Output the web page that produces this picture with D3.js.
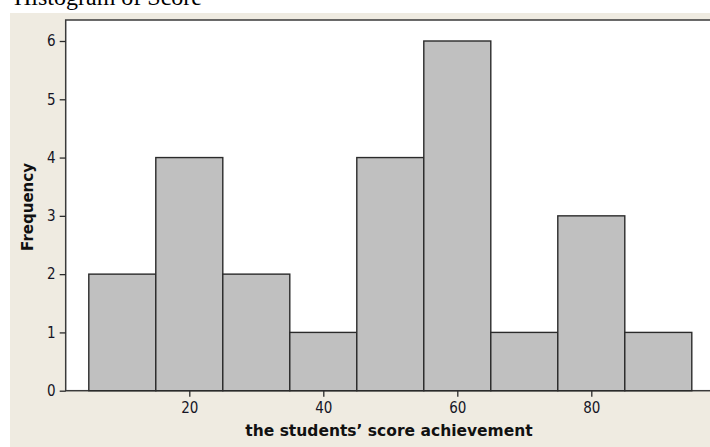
<!DOCTYPE html>
<html>
<head>
<meta charset="utf-8">
<script src="https://cdn.jsdelivr.net/npm/d3@7"></script>
<style>
  body { margin: 0; background: #ffffff; }
  svg { display: block; }
  .tick text { font-size: 15px; font-family: 'DejaVu Sans Condensed', 'DejaVu Sans', sans-serif; }
</style>
</head>
<body>
<svg id="chart" width="710" height="447"></svg>
<script>
// histogram bins (lower edge, upper edge) and counts
var binStarts = [5, 15, 25, 35, 45, 55, 65, 75, 85];
var binEnds = [15, 25, 35, 45, 55, 65, 75, 85, 95];
var counts = [2, 4, 2, 1, 4, 6, 1, 3, 1];
var xTicks = [20, 40, 60, 80];
var yTicks = [0, 1, 2, 3, 4, 5, 6];

var svg = d3.select("#chart");
var width = 710, height = 447;

var plotLeft = 65.7, plotTop = 20, plotBottom = 390.7;

var x = d3.scaleLinear()
    .domain([5, 95])
    .range([88.8, 691.8]);

var y = d3.scaleLinear()
    .domain([0, 6])
    .range([plotBottom, 41]);

// caption of the page above, cut off by the crop
svg.append("text")
    .attr("x", 14)
    .attr("y", 5)
    .style("font-family", "'Liberation Serif', serif")
    .style("font-size", "24px")
    .style("fill", "#000")
    .text("Histogram of Score");

// beige panel
svg.append("rect")
    .attr("x", 10)
    .attr("y", 13)
    .attr("width", width - 10)
    .attr("height", height - 13)
    .attr("fill", "#efebe1");

// white plot area
svg.append("rect")
    .attr("x", plotLeft)
    .attr("y", plotTop)
    .attr("width", width - plotLeft + 5)
    .attr("height", plotBottom - plotTop)
    .attr("fill", "#ffffff")
    .attr("stroke", "#3a3a3a")
    .attr("stroke-width", 1.5);

// bars
svg.append("g")
    .selectAll("rect")
    .data(counts)
    .enter()
    .append("rect")
    .attr("x", function (d, i) { return x(binStarts[i]); })
    .attr("y", function (d) { return y(d); })
    .attr("width", function (d, i) { return x(binEnds[i]) - x(binStarts[i]); })
    .attr("height", function (d) { return plotBottom - y(d); })
    .attr("fill", "#c0c0c0")
    .attr("stroke", "#2b2b2b")
    .attr("stroke-width", 1.4);

// axes
var yAxis = d3.axisLeft(y)
    .tickValues(yTicks)
    .tickSize(6)
    .tickPadding(4)
    .tickFormat(d3.format("d"));

var xAxis = d3.axisBottom(x)
    .tickValues(xTicks)
    .tickSize(6)
    .tickPadding(6)
    .tickFormat(d3.format("d"));

var gy = svg.append("g")
    .attr("transform", "translate(" + plotLeft + ",0)")
    .call(yAxis);

var gx = svg.append("g")
    .attr("transform", "translate(0," + plotBottom + ")")
    .call(xAxis);

[gx, gy].forEach(function (g) {
    g.attr("font-size", 15);
    g.select(".domain").remove();
    g.selectAll(".tick line").attr("stroke", "#2b2b2b").attr("stroke-width", 1.3);
    g.selectAll(".tick text").attr("fill", "#151525");
});

// axis labels
svg.append("text")
    .attr("x", 389)
    .attr("y", 436)
    .attr("text-anchor", "middle")
    .attr("font-family", "'DejaVu Sans', sans-serif")
    .attr("font-weight", "bold")
    .attr("font-size", 15.5)
    .attr("fill", "#111")
    .text("the students\u2019 score achievement");

svg.append("text")
    .attr("text-anchor", "middle")
    .attr("transform", "translate(33,207)rotate(-90)")
    .attr("font-family", "'DejaVu Sans', sans-serif")
    .attr("font-weight", "bold")
    .attr("font-size", 15)
    .attr("fill", "#111")
    .text("Frequency");
</script>
</body>
</html>
